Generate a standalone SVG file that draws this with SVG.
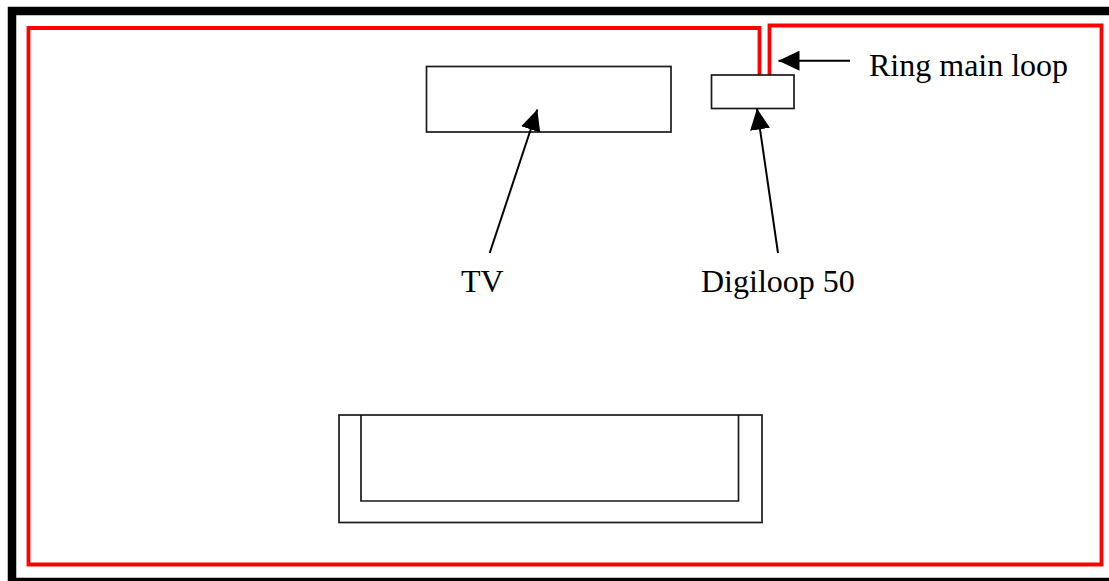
<svg xmlns="http://www.w3.org/2000/svg" width="1109" height="581" viewBox="0 0 1109 581">
<style>
.box{fill:none;stroke:#1a1a1a;stroke-width:1.7}
.loop{fill:none;stroke:#f00;stroke-width:3.8}
.ptr{fill:none;stroke:#000;stroke-width:2;marker-end:url(#head)}
text{font-family:"Liberation Serif","Times New Roman",serif;font-size:32px;fill:#000}
</style>
<defs>
<marker id="head" markerUnits="userSpaceOnUse" markerWidth="22" markerHeight="20" refX="21" refY="10" orient="auto" viewBox="0 0 22 20">
<path d="M0 0L21 10L0 20z" fill="#000"/>
</marker>
</defs>
<rect width="1109" height="581" fill="#fff"/>
<rect id="room" x="12" y="11" width="1110" height="571" fill="none" stroke="#000" stroke-width="8.5"/>
<g id="ring-main-loop">
<path class="loop" d="M759.5 75V28H28.500V564.500H1101.500V25.500H769.500V75"/>
</g>
<g id="tv"><rect class="box" x="426.500" y="66.500" width="244.500" height="65.500"/></g>
<g id="digiloop"><rect class="box" x="711.500" y="75" width="82.500" height="33.500"/></g>
<g id="sofa">
<rect class="box" x="339" y="415" width="423" height="107.500"/>
<path class="box" d="M361 415V501H738.500V415"/>
</g>
<g id="connectors">
<line class="ptr" x1="489.700" y1="253" x2="537.300" y2="109.500"/>
<line class="ptr" x1="778" y1="253" x2="757" y2="108.500"/>
<line class="ptr" x1="850" y1="60.700" x2="778.500" y2="60.700"/>
</g>
<g id="labels">
<text x="869" y="76">Ring main loop</text>
<text x="461" y="292">TV</text>
<text x="701" y="292">Digiloop 50</text>
</g>
</svg>
